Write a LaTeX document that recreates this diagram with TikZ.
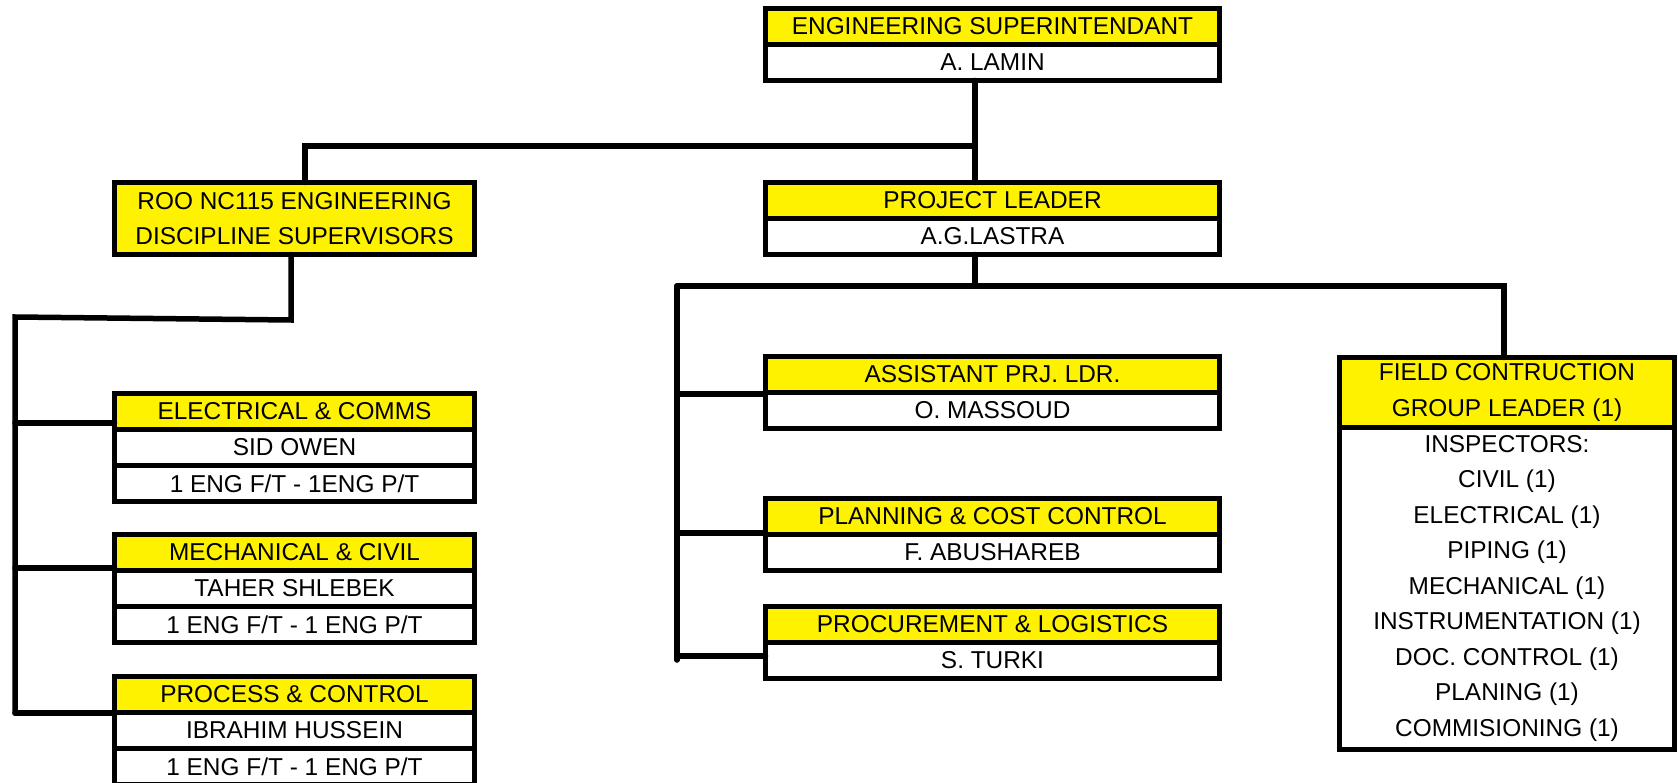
\documentclass[tikz,border=0pt]{standalone}
\usepackage{fontspec}
\setmainfont{Liberation Sans}
\usetikzlibrary{positioning}

\begin{document}
\begin{tikzpicture}
[
	x=1pt, y=-1pt,
	headbox/.style={rectangle,draw=black,line width=5.5pt,fill=yellow,inner sep=0pt,outer sep=0pt,minimum height=36pt,align=center,font=\fontsize{24.4}{35.5}\selectfont},
	namebox/.style={headbox,fill=white},
	link/.style={line width=5.5pt,line cap=round},
]
	\useasboundingbox (0,0) rectangle (1678,783);

	\begin{scope}[every node/.append style={minimum width=454pt}]
		\node[headbox,anchor=north] (sup) at (992.5,8.5) {ENGINEERING SUPERINTENDANT};
		\node[namebox,below=0pt of sup] (supname) {A. LAMIN};

		\node[headbox,anchor=north] (leader) at (992.5,182.5) {PROJECT LEADER};
		\node[namebox,below=0pt of leader] (leadername) {A.G.LASTRA};

		\node[headbox,anchor=north] (asst) at (992.5,356.5) {ASSISTANT PRJ. LDR.};
		\node[namebox,below=0pt of asst] (asstname) {O. MASSOUD};

		\node[headbox,anchor=north] (plan) at (992.5,498.5) {PLANNING \& COST CONTROL};
		\node[namebox,below=0pt of plan] (planname) {F. ABUSHAREB};

		\node[headbox,anchor=north] (procur) at (992.5,606.5) {PROCUREMENT \& LOGISTICS};
		\node[namebox,below=0pt of procur] (procurname) {S. TURKI};
	\end{scope}

	\begin{scope}[every node/.append style={minimum width=360pt}]
		\node[headbox,anchor=north,minimum height=72pt] (roo) at (294.5,182.5) {ROO NC115 ENGINEERING\\DISCIPLINE SUPERVISORS};

		\node[headbox,anchor=north] (elec) at (294.5,393.5) {ELECTRICAL \& COMMS};
		\node[namebox,below=0pt of elec] (elecname) {SID OWEN};
		\node[namebox,below=0pt of elecname] (elecstaff) {1 ENG F/T - 1ENG P/T};

		\node[headbox,anchor=north] (mech) at (294.5,534.5) {MECHANICAL \& CIVIL};
		\node[namebox,below=0pt of mech] (mechname) {TAHER SHLEBEK};
		\node[namebox,below=0pt of mechname] (mechstaff) {1 ENG F/T - 1 ENG P/T};

		\node[headbox,anchor=north] (proc) at (294.5,676.5) {PROCESS \& CONTROL};
		\node[namebox,below=0pt of proc] (procname) {IBRAHIM HUSSEIN};
		\node[namebox,below=0pt of procname] (procstaff) {1 ENG F/T - 1 ENG P/T};
	\end{scope}

	\begin{scope}[every node/.append style={minimum width=335pt}]
		\node[headbox,anchor=north,minimum height=70pt] (field) at (1507,357.5) {FIELD CONTRUCTION\\GROUP LEADER (1)};
		\node[namebox,below=0pt of field,minimum height=322pt] (fieldbody) {INSPECTORS:\\CIVIL (1)\\ELECTRICAL (1)\\PIPING (1)\\MECHANICAL (1)\\INSTRUMENTATION (1)\\DOC. CONTROL (1)\\PLANING (1)\\COMMISIONING (1)};
	\end{scope}

	\coordinate (spine) at (975,146);
	\coordinate (rooin) at (305,146);
	\coordinate (rooout) at (291,320);
	\coordinate (dtop) at (15,317);
	\coordinate (dE) at (15,423);
	\coordinate (dM) at (15,568);
	\coordinate (dP) at (15,713);
	\coordinate (ptop) at (975,286);
	\coordinate (pleft) at (677,286);
	\coordinate (pright) at (1504,286);
	\coordinate (pA) at (677,394);
	\coordinate (pB) at (677,533);
	\coordinate (pC) at (677,656);
	\coordinate (pend) at (677,660);

	\draw[link] (supname.south -| spine) -- (leader.north -| spine);
	\draw[link] (spine) -- (rooin) -- (roo.north -| rooin);
	\draw[link] (roo.south -| rooout) -- (rooout) -- (dtop) -- (dP);
	\draw[link] (dE) -- (dE -| elec.west);
	\draw[link] (dM) -- (dM -| mech.west);
	\draw[link] (dP) -- (dP -| proc.west);

	\draw[link] (leadername.south -| ptop) -- (ptop);
	\draw[link] (pleft) -- (pright) -- (pright |- field.north);
	\draw[link] (pleft) -- (pend);
	\draw[link] (pA) -- (pA -| asst.west);
	\draw[link] (pB) -- (pB -| plan.west);
	\draw[link] (pC) -- (pC -| procur.west);
\end{tikzpicture}
\end{document}
